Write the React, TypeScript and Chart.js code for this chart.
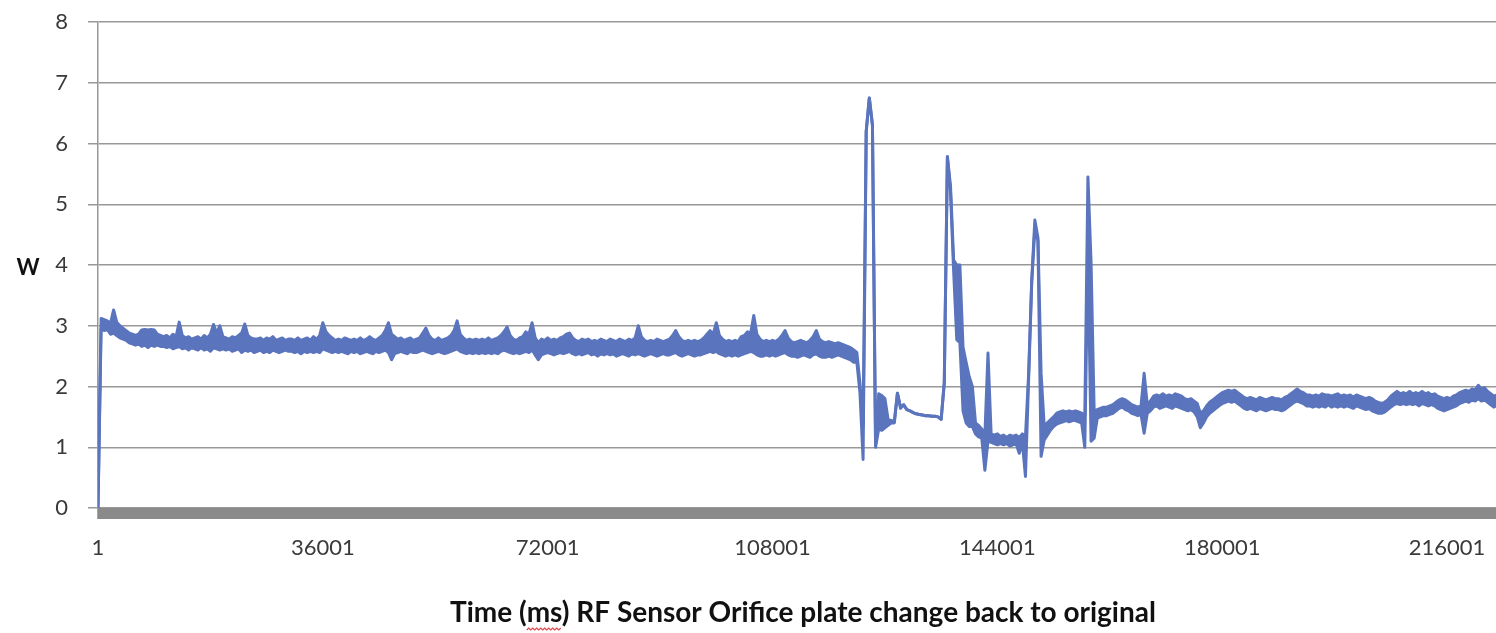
import { useEffect, useRef } from "react";
import { Chart, registerables } from "chart.js";

Chart.register(...registerables);

// Sensor log: each sample is the highest and lowest power reading seen in a
// SAMPLE_MS window, starting at START_MS.
const SAMPLE_MS = 500;
const START_MS = 1;
const AXIS_END_MS = 223840;

const X_TICKS = [1, 36001, 72001, 108001, 144001, 180001, 216001];
const Y_MIN = 0;
const Y_MAX = 8;

const X_TITLE = "Time (ms) RF Sensor Orifice plate change back to original";
const FLAGGED_WORD_PREFIX = "Time (";
const FLAGGED_WORD = "ms";
const Y_TITLE = "W";

// Steady running before the plate change (W)
const steadyHigh = [
  0,
  3.12, 3.1, 3.08, 3.04, 3.26, 3.06, 3.0, 2.96, 2.92, 2.88,
  2.86, 2.84, 2.86, 2.93, 2.94, 2.93, 2.94, 2.93, 2.86, 2.84,
  2.82, 2.84, 2.8, 2.86, 2.82, 3.06, 2.84, 2.8, 2.82, 2.78,
  2.8, 2.82, 2.78, 2.84, 2.8, 2.86, 3.02, 2.88, 3.0, 2.82,
  2.8, 2.78, 2.82, 2.8, 2.84, 2.88, 3.03, 2.84, 2.8, 2.78,
  2.78, 2.8, 2.76, 2.8, 2.78, 2.82, 2.76, 2.78, 2.8, 2.76,
  2.78,
  2.78, 2.76, 2.8, 2.76, 2.78, 2.8, 2.76, 2.82, 2.78, 2.84,
  3.05, 2.9, 2.84, 2.8, 2.76, 2.78, 2.76, 2.8, 2.78, 2.76,
  2.78, 2.76, 2.8, 2.76, 2.78, 2.82, 2.78, 2.76, 2.8, 2.84,
  2.92, 3.05, 2.86, 2.82, 2.78, 2.8, 2.76, 2.78, 2.8, 2.76,
  2.78, 2.8, 2.88, 2.96, 2.84, 2.78, 2.76, 2.8, 2.76, 2.78,
  2.8, 2.84, 2.92, 3.08, 2.86, 2.8, 2.76, 2.78, 2.76, 2.78,
  2.76, 2.78, 2.76, 2.8, 2.76, 2.78, 2.8, 2.84, 2.9, 2.98,
  2.84, 2.78, 2.76, 2.8, 2.82, 2.9, 2.86, 3.05, 2.8, 2.72,
  2.78, 2.76, 2.8, 2.76, 2.78, 2.76, 2.8, 2.82, 2.86, 2.88,
  2.8, 2.76, 2.74, 2.78, 2.76, 2.78, 2.74, 2.76, 2.74, 2.78,
  2.76, 2.74, 2.78, 2.76, 2.74, 2.78, 2.76, 2.74, 2.78, 2.76,
  2.8, 3.0, 2.82, 2.76, 2.74, 2.76, 2.74, 2.78, 2.76, 2.74,
  2.76,
  2.78, 2.84, 2.92, 2.82, 2.76, 2.74, 2.76, 2.74, 2.76, 2.74,
  2.76, 2.8, 2.86, 2.92, 2.86, 3.05, 2.84, 2.78, 2.74, 2.76,
  2.74, 2.76, 2.74, 2.82, 2.84, 2.9, 2.88, 3.17, 2.86, 2.78,
  2.74, 2.76, 2.74, 2.76, 2.74, 2.78, 2.84, 2.92, 2.8, 2.74,
  2.72, 2.74, 2.76, 2.74, 2.72, 2.76, 2.82, 2.92, 2.78, 2.74,
  2.72, 2.74, 2.72, 2.7, 2.72, 2.7, 2.68, 2.66, 2.64, 2.6,
];

const steadyLow = [
  0,
  2.96, 2.92, 2.94, 2.86, 2.88, 2.84, 2.8, 2.78, 2.76, 2.72,
  2.7, 2.68, 2.7, 2.66, 2.68, 2.64, 2.68, 2.66, 2.68, 2.66,
  2.66, 2.64, 2.66, 2.62, 2.64, 2.66, 2.62, 2.64, 2.6, 2.64,
  2.62, 2.6, 2.64, 2.6, 2.62, 2.58, 2.64, 2.62, 2.6, 2.62,
  2.6, 2.62, 2.58, 2.6, 2.62, 2.56, 2.6, 2.58, 2.6, 2.56,
  2.58, 2.6, 2.56, 2.58, 2.56, 2.6, 2.58, 2.56, 2.58, 2.6,
  2.58,
  2.58, 2.56, 2.58, 2.54, 2.58, 2.56, 2.58, 2.56, 2.58, 2.56,
  2.62, 2.6, 2.58, 2.56, 2.58, 2.56, 2.58, 2.56, 2.54, 2.58,
  2.56, 2.58, 2.54, 2.56, 2.58, 2.56, 2.54, 2.58, 2.56, 2.58,
  2.6, 2.56, 2.44, 2.54, 2.56, 2.58, 2.56, 2.54, 2.58, 2.56,
  2.56, 2.58, 2.6, 2.58, 2.56, 2.54, 2.56, 2.58, 2.56, 2.54,
  2.56, 2.58, 2.6, 2.62, 2.58, 2.56, 2.54, 2.56, 2.54, 2.56,
  2.54, 2.56, 2.54, 2.56, 2.54, 2.56, 2.54, 2.58, 2.6, 2.58,
  2.56, 2.54, 2.56, 2.54, 2.56, 2.58, 2.56, 2.6, 2.52, 2.44,
  2.52, 2.54, 2.56, 2.54, 2.52, 2.54, 2.56, 2.54, 2.56, 2.58,
  2.54, 2.52, 2.54, 2.52, 2.54, 2.56, 2.52, 2.54, 2.5, 2.54,
  2.52, 2.54, 2.52, 2.54, 2.5, 2.52, 2.54, 2.52, 2.5, 2.54,
  2.52, 2.54, 2.52, 2.5, 2.52, 2.54, 2.52, 2.5, 2.52, 2.54,
  2.52,
  2.52, 2.54, 2.56, 2.52, 2.5, 2.52, 2.54, 2.52, 2.5, 2.52,
  2.52, 2.54, 2.56, 2.58, 2.56, 2.58, 2.54, 2.52, 2.5, 2.52,
  2.5, 2.52, 2.5, 2.52, 2.54, 2.56, 2.58, 2.56, 2.52, 2.5,
  2.5, 2.52, 2.5, 2.52, 2.5, 2.52, 2.54, 2.56, 2.52, 2.5,
  2.5, 2.48, 2.5, 2.52, 2.5, 2.48, 2.52, 2.54, 2.5, 2.48,
  2.48, 2.5, 2.48, 2.5, 2.52, 2.5, 2.48, 2.46, 2.44, 2.4,
];

// Plate change: surges and recovery (W)
const transientHigh = [
  2.56, 2.05, 1.34, 6.2, 6.75, 6.3, 1.05, 1.88, 1.85, 1.8,
  1.46, 1.44, 1.42, 1.89, 1.66, 1.7, 1.62, 1.6, 1.57, 1.55,
  1.54, 1.53, 1.52, 1.52, 1.51, 1.51, 1.5, 1.46, 2.06, 5.78,
  5.3, 4.08, 4.0, 4.0, 2.65, 2.4, 2.16, 2.0, 1.4, 1.36,
  1.3, 1.2, 2.55, 1.22, 1.2, 1.22, 1.18, 1.2, 1.16, 1.2,
  1.18, 1.2, 1.16, 1.22, 1.18, 2.2, 3.75, 4.74, 4.45, 2.22,
  1.35, 1.4, 1.45, 1.5, 1.56, 1.58, 1.6, 1.58, 1.6, 1.58,
  1.6, 1.58, 1.56, 1.52, 5.45, 4.05, 1.6, 1.62, 1.64, 1.66,
  1.66, 1.68, 1.7, 1.74, 1.78, 1.8, 1.78, 1.74, 1.7, 1.68,
  1.66, 1.68, 2.22, 1.7, 1.76,
];

const transientLow = [
  2.4, 1.9, 0.8, 6.2, 6.75, 6.3, 1.0, 1.3, 1.28, 1.32,
  1.36, 1.4, 1.4, 1.89, 1.64, 1.7, 1.62, 1.6, 1.57, 1.55,
  1.54, 1.53, 1.52, 1.52, 1.51, 1.51, 1.5, 1.46, 2.06, 5.78,
  5.2, 3.9, 2.77, 2.72, 1.6, 1.4, 1.34, 1.34, 1.22, 1.17,
  1.15, 0.62, 1.1, 1.08, 1.06, 1.04, 1.06, 1.04, 1.06, 1.02,
  1.04, 1.06, 0.9, 1.08, 0.52, 2.1, 3.7, 4.6, 4.4, 0.85,
  1.12, 1.2, 1.28, 1.34, 1.38, 1.4, 1.42, 1.44, 1.42, 1.44,
  1.44, 1.42, 1.4, 1.0, 4.2, 1.1, 1.15, 1.48, 1.5, 1.52,
  1.52, 1.54, 1.56, 1.6, 1.64, 1.66, 1.62, 1.6, 1.56, 1.54,
  1.52, 1.54, 1.23, 1.56, 1.6,
];

// Settled running with the original plate back in (W)
const settledHigh = [
  1.84, 1.86, 1.84, 1.88, 1.84, 1.86, 1.84, 1.88, 1.86, 1.84,
  1.8, 1.78, 1.8, 1.76, 1.72, 1.56, 1.6, 1.68, 1.74, 1.78,
  1.82, 1.86, 1.9, 1.92, 1.94, 1.92, 1.94, 1.9, 1.86, 1.82,
  1.8, 1.82, 1.8, 1.78, 1.82, 1.8, 1.78, 1.8, 1.82, 1.8,
  1.8, 1.78, 1.82, 1.84, 1.88, 1.92, 1.96, 1.92, 1.9, 1.86,
  1.86, 1.84, 1.86, 1.84, 1.88, 1.86,
  1.86, 1.84, 1.86, 1.88, 1.84,
  1.86, 1.84, 1.86, 1.82, 1.86, 1.84, 1.82, 1.8, 1.82, 1.8,
  1.76, 1.74, 1.72, 1.74, 1.78, 1.84, 1.88, 1.92, 1.88, 1.9,
  1.88, 1.92, 1.88, 1.9, 1.88, 1.92, 1.88, 1.9, 1.86, 1.88,
  1.84, 1.82, 1.8, 1.82, 1.8, 1.84, 1.86, 1.9, 1.92, 1.94,
  1.92, 1.96, 1.94, 2.02, 1.96, 1.98, 1.92, 1.88, 1.84, 1.86,
];

const settledLow = [
  1.66, 1.68, 1.64, 1.66, 1.68, 1.66, 1.64, 1.68, 1.66, 1.64,
  1.62, 1.6, 1.62, 1.58, 1.5, 1.32, 1.4, 1.5, 1.56, 1.6,
  1.64, 1.68, 1.72, 1.74, 1.76, 1.74, 1.76, 1.72, 1.68, 1.64,
  1.62, 1.64, 1.62, 1.6, 1.64, 1.62, 1.6, 1.62, 1.64, 1.62,
  1.62, 1.6, 1.62, 1.66, 1.7, 1.74, 1.76, 1.74, 1.72, 1.68,
  1.68, 1.66, 1.68, 1.66, 1.68, 1.66,
  1.7, 1.66, 1.68, 1.66, 1.68,
  1.66, 1.68, 1.66, 1.64, 1.68, 1.66, 1.64, 1.62, 1.64, 1.6,
  1.58, 1.56, 1.56, 1.58, 1.62, 1.66, 1.7, 1.72, 1.7, 1.72,
  1.7, 1.72, 1.7, 1.72, 1.68, 1.72, 1.7, 1.68, 1.7, 1.68,
  1.64, 1.62, 1.6, 1.62, 1.64, 1.66, 1.68, 1.72, 1.74, 1.76,
  1.74, 1.78, 1.76, 1.8, 1.76, 1.78, 1.74, 1.7, 1.66, 1.7,
];

const highWatts = [...steadyHigh, ...transientHigh, ...settledHigh];
const lowWatts = [...steadyLow, ...transientLow, ...settledLow];

const LINE_COLOR = "#5a74bd";
const GRID_COLOR = "#989898";
const AXIS_BAR_COLOR = "#8a8a8a";
const TEXT_COLOR = "#3a3a3a";
const FONT_FAMILY = "Lato, 'Open Sans', sans-serif";

const PLOT_LEFT = 98;
const PLOT_TOP = 22;
const PLOT_BOTTOM = 508;
const CANVAS_W = 1496;
const CANVAS_H = 633;

const chartDecorations = {
  id: "chartDecorations",
  beforeDatasetsDraw(chart: any) {
    const { ctx, chartArea } = chart;
    ctx.save();
    // thick category-axis band under the zero line
    ctx.fillStyle = AXIS_BAR_COLOR;
    ctx.fillRect(chartArea.left - 0.75, chartArea.bottom, chartArea.right - chartArea.left + 1, 11);
    ctx.restore();
  },
  afterDraw(chart: any) {
    const { ctx } = chart;
    ctx.save();
    ctx.fillStyle = "#111";
    ctx.font = `bold 22px ${FONT_FAMILY}`;
    ctx.textAlign = "center";
    ctx.textBaseline = "middle";
    ctx.fillText(Y_TITLE, 28, 268);

    const titleX = 803;
    const titleBase = 622;
    ctx.font = `bold 28px ${FONT_FAMILY}`;
    ctx.textAlign = "left";
    ctx.textBaseline = "alphabetic";
    const full = ctx.measureText(X_TITLE).width;
    const startX = titleX - full / 2;
    ctx.fillText(X_TITLE, startX, titleBase);

    // spell-check squiggle under the flagged word
    const sx = startX + ctx.measureText(FLAGGED_WORD_PREFIX).width;
    const sw = ctx.measureText(FLAGGED_WORD).width;
    ctx.strokeStyle = "#e0474c";
    ctx.lineWidth = 1.2;
    ctx.beginPath();
    const wy = titleBase + 7;
    let up = true;
    ctx.moveTo(sx, wy + 1);
    for (let x = sx + 2; x <= sx + sw; x += 2) {
      ctx.lineTo(x, up ? wy - 1 : wy + 1);
      up = !up;
    }
    ctx.stroke();
    ctx.restore();
  },
};

export default function App() {
  const canvasRef = useRef<HTMLCanvasElement | null>(null);

  useEffect(() => {
    if (!canvasRef.current) return;
    const toPoints = (values: number[]) =>
      values.map((w, i) => ({ x: START_MS + i * SAMPLE_MS, y: w }));

    const lineStyle = {
      borderColor: LINE_COLOR,
      backgroundColor: LINE_COLOR,
      borderWidth: 3,
      pointRadius: 0,
      tension: 0,
      borderJoinStyle: "round" as const,
      borderCapStyle: "round" as const,
    };

    const chart = new Chart(canvasRef.current, {
      type: "line",
      data: {
        datasets: [
          { ...lineStyle, label: "W max", data: toPoints(highWatts), fill: "+1" },
          { ...lineStyle, label: "W min", data: toPoints(lowWatts), fill: false },
        ],
      },
      options: {
        animation: false,
        responsive: true,
        maintainAspectRatio: false,
        layout: { padding: { top: PLOT_TOP, right: 0, bottom: 0, left: 0 } },
        plugins: {
          legend: { display: false },
          tooltip: { enabled: false },
        },
        scales: {
          x: {
            type: "linear",
            min: START_MS,
            max: AXIS_END_MS,
            grid: { display: false, drawTicks: false },
            border: { display: false },
            afterBuildTicks: (scale: any) => {
              scale.ticks = X_TICKS.map((v) => ({ value: v }));
            },
            afterFit: (scale: any) => {
              scale.height = CANVAS_H - PLOT_BOTTOM;
              scale.paddingLeft = 0;
              scale.paddingRight = 0;
            },
            ticks: {
              padding: 27,
              maxRotation: 0,
              autoSkip: false,
              color: TEXT_COLOR,
              font: { family: FONT_FAMILY, size: 22 },
              callback: (v: any) => String(v),
            },
          },
          y: {
            min: Y_MIN,
            max: Y_MAX,
            afterFit: (scale: any) => {
              scale.width = PLOT_LEFT;
              scale.paddingTop = 0;
              scale.paddingBottom = 0;
            },
            grid: {
              color: GRID_COLOR,
              lineWidth: 1.5,
              tickLength: 10,
              drawTicks: true,
            },
            border: { display: true, color: GRID_COLOR, width: 1.5 },
            ticks: {
              stepSize: 1,
              padding: 20,
              color: TEXT_COLOR,
              font: { family: FONT_FAMILY, size: 22 },
            },
          },
        },
      },
      plugins: [chartDecorations],
    });

    return () => chart.destroy();
  }, []);

  return (
    <div
      style={{
        position: "fixed",
        left: 0,
        top: 0,
        width: CANVAS_W,
        height: CANVAS_H,
        background: "#fff",
      }}
    >
      <canvas ref={canvasRef} />
    </div>
  );
}
